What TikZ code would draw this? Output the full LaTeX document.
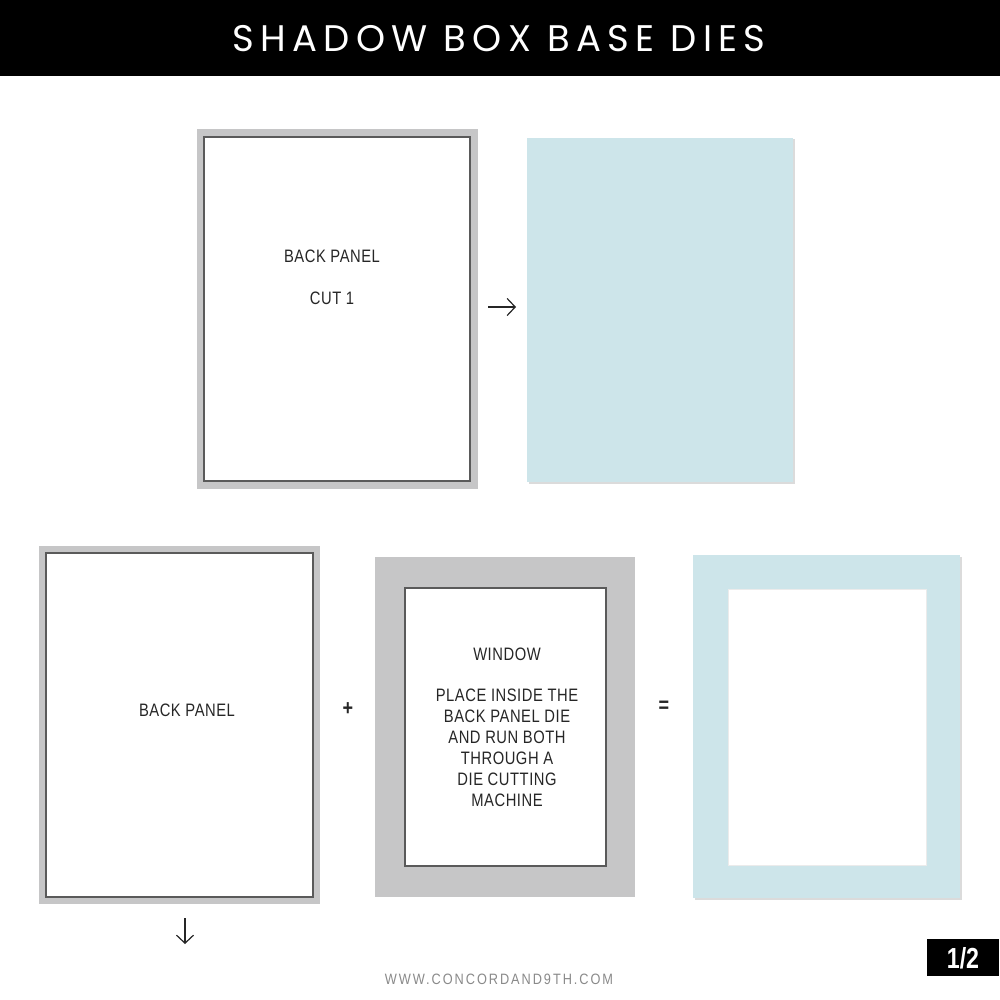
\documentclass[tikz,border=0pt]{standalone}
\usepackage{fontspec}
\usetikzlibrary{arrows.meta}
\newfontfamily\titlefont[LetterSpace=17]{Poppins}
\newfontfamily\bodyfont[FakeStretch=0.82,LetterSpace=3]{Liberation Sans}
\newfontfamily\footfont[FakeStretch=0.85,LetterSpace=13]{Liberation Sans}
\newfontfamily\pagefont[FakeStretch=0.8]{Liberation Sans}
\definecolor{dieGray}{HTML}{C6C6C7}
\definecolor{dieLine}{HTML}{5A5A5A}
\definecolor{paperBlue}{HTML}{CDE5EA}
\definecolor{footGray}{HTML}{8A8A8A}
\tikzset{
  outerg/.style={rectangle, fill=dieGray, inner sep=0pt, outer sep=0pt},
  innerw/.style={rectangle, fill=white, draw=dieLine, line width=1.5pt, inner sep=0pt, outer sep=0pt},
  paper/.style={rectangle, fill=paperBlue, inner sep=0pt, outer sep=0pt},
  hole/.style={rectangle, fill=white, draw=black!8, line width=1pt, inner sep=0pt, outer sep=0pt},
  shadowbox/.style={rectangle, fill=black!14, inner sep=0pt, outer sep=0pt},
  label/.style={font=\bodyfont\fontsize{18}{20.9}\selectfont, text=black!85, align=center, inner sep=0pt},
  sym/.style={font=\bodyfont\bfseries\fontsize{22}{22}\selectfont, text=black!85, inner sep=0pt},
  handarrow/.style={line width=1.2pt, black!85, -{Straight Barb[length=8pt,width=17pt,line width=1.2pt]}}
}
\begin{document}
\begin{tikzpicture}[x=1pt,y=-1pt]
\useasboundingbox (0,0) rectangle (1000,1000);
\fill[white] (0,0) rectangle (1000,1000);
% title bar
\fill[black] (0,0) rectangle (1000,76);
\node[font=\titlefont\fontsize{37}{37}\selectfont, text=white, inner sep=0pt] (title) at (499,39) {SHADOW BOX BASE DIES};

% top row: back panel die
\node[outerg, minimum width=281pt, minimum height=359pt] (bpA) at (337.5,309) {};
\node[innerw, minimum width=266pt, minimum height=344pt] (bpAin) at (337,309) {};
\node[label] (bpAtext) at (332,277) {BACK PANEL\\\mbox{}\\CUT 1};

% top row: blue card
\node[shadowbox, minimum width=266pt, minimum height=344pt] (cardSh) at (661.5,311.5) {};
\node[paper, minimum width=266pt, minimum height=344pt] (card) at (660,310) {};

% arrow
\coordinate (arA) at (488,307);
\coordinate (arB) at (516,307);
\draw[handarrow] (arA) -- (arB);

% bottom row: back panel die
\node[outerg, minimum width=281pt, minimum height=358pt] (bpB) at (179.5,725) {};
\node[innerw, minimum width=267pt, minimum height=344pt] (bpBin) at (179.5,725) {};
\node[label] (bpBtext) at (187,710) {BACK PANEL};

\node[sym] (plus) at (348,709) {+};

% window die
\node[outerg, minimum width=260pt, minimum height=340pt] (win) at (505,727) {};
\node[innerw, minimum width=201pt, minimum height=278pt] (winin) at (505.5,727) {};
\node[label] (wintext) at (507,727) {WINDOW\\\mbox{}\\PLACE INSIDE THE\\BACK PANEL DIE\\AND RUN BOTH\\THROUGH A\\DIE CUTTING\\MACHINE};

\node[sym] (equal) at (664,707) {=};

% result frame
\node[shadowbox, minimum width=267pt, minimum height=343pt] (frameSh) at (828,728) {};
\node[paper, minimum width=267pt, minimum height=343pt] (frame) at (826.5,726.5) {};
\node[hole, minimum width=198pt, minimum height=276pt] (framehole) at (827,727) {};

% down arrow
\coordinate (dnA) at (185,918);
\coordinate (dnB) at (185,944);
\draw[handarrow] (dnA) -- (dnB);

% page number
\node[rectangle, fill=black, minimum width=72pt, minimum height=37pt, inner sep=0pt] (page) at (963,957.5) {};
\node[font=\pagefont\bfseries\fontsize{29}{29}\selectfont, text=white, inner sep=0pt] (pagetext) at (963,958.5) {1/2};

% footer
\node[font=\footfont\fontsize{15}{15}\selectfont, text=footGray, inner sep=0pt] (footer) at (499,979) {WWW.CONCORDAND9TH.COM};
\end{tikzpicture}
\end{document}
